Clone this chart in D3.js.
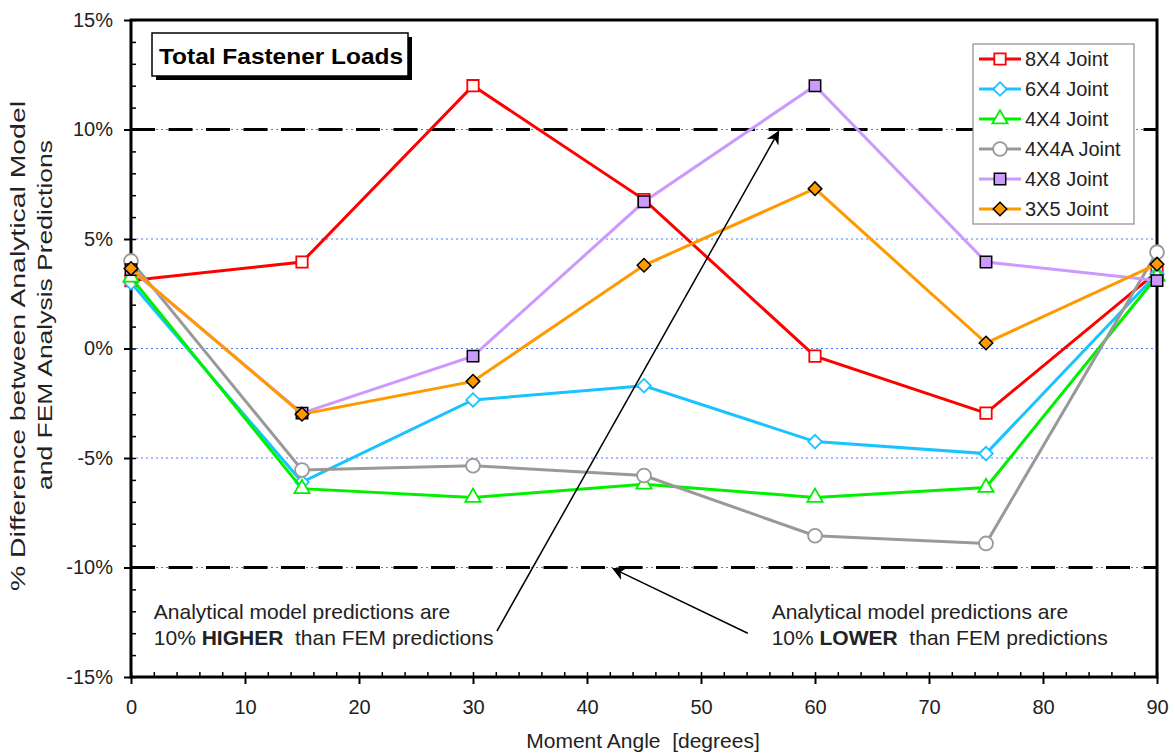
<!DOCTYPE html>
<html>
<head>
<meta charset="utf-8">
<script src="https://cdn.jsdelivr.net/npm/d3@7"></script>
<style>
  html, body { margin: 0; padding: 0; background: #fff; }
  svg { display: block; font-family: "Liberation Sans", Arial, sans-serif; }
</style>
</head>
<body>
<svg id="chart" width="1175" height="756"></svg>
<script>
// Moment angle (degrees) at which each joint was evaluated
const angles = [0, 15, 30, 45, 60, 75, 90];

// % difference between analytical model and FEM predictions, per joint
const joint8x4  = [3.1, 3.95, 12.0, 6.8, -0.35, -2.95, 3.5];
const joint6x4  = [3.0, -6.1, -2.35, -1.7, -4.25, -4.8, 3.4];
const joint4x4  = [3.25, -6.4, -6.8, -6.2, -6.8, -6.35, 3.3];
const joint4x4A = [4.0, -5.55, -5.35, -5.8, -8.55, -8.9, 4.4];
const joint4x8  = [3.6, -2.95, -0.35, 6.7, 12.0, 3.95, 3.1];
const joint3x5  = [3.65, -3.0, -1.5, 3.8, 7.3, 0.25, 3.85];

const seriesNames  = ["8X4 Joint", "6X4 Joint", "4X4 Joint", "4X4A Joint", "4X8 Joint", "3X5 Joint"];
const seriesValues = [joint8x4, joint6x4, joint4x4, joint4x4A, joint4x8, joint3x5];
const seriesColors = ["#ff0000", "#19c3ff", "#00f000", "#999999", "#cc99ff", "#ff9900"];
const seriesShapes = ["square", "diamond", "triangle", "circle", "square", "diamond"];
const seriesFills  = ["#ffffff", "#ffffff", "#ffffff", "#ffffff", "#cc99ff", "#ff9900"];
const seriesStroke = ["#ff0000", "#19c3ff", "#00f000", "#999999", "#000000", "#000000"];

const xTicks = [0, 10, 20, 30, 40, 50, 60, 70, 80, 90];
const yTicks = [-15, -10, -5, 0, 5, 10, 15];
const gridLevels = [-10, -5, 0, 5, 10];
const limitLevels = [10, -10];

const svg = d3.select("#chart");
const plotLeft = 131, plotRight = 1157, plotTop = 20, plotBottom = 677;

const x = d3.scaleLinear().domain([0, 90]).range([plotLeft, plotRight]);
const y = d3.scaleLinear().domain([-15, 15]).range([plotBottom, plotTop]);

const textColor = "#222";

// dotted blue gridlines
svg.append("g").selectAll("line").data(gridLevels).join("line")
  .attr("x1", plotLeft).attr("x2", plotRight)
  .attr("y1", d => y(d)).attr("y2", d => y(d))
  .attr("stroke", "#4a78ff").attr("stroke-width", 1)
  .attr("stroke-dasharray", "2,3");

// +/-10% limit lines
svg.append("g").selectAll("line").data(limitLevels).join("line")
  .attr("x1", plotLeft).attr("x2", plotRight)
  .attr("y1", d => y(d)).attr("y2", d => y(d))
  .attr("stroke", "#000").attr("stroke-width", 3)
  .attr("stroke-dasharray", "24,13.5");

// y axis: major ticks outward with labels, minor ticks inward
const yAxis = d3.axisLeft(y).tickValues(yTicks).tickSize(7).tickPadding(11)
  .tickFormat(d => d + "%");
const gy = svg.append("g").attr("transform", `translate(${plotLeft},0)`).call(yAxis);
gy.select(".domain").remove();
gy.selectAll(".tick line").attr("stroke", "#000").attr("stroke-width", 2);
gy.selectAll(".tick text").attr("font-size", 20).attr("fill", textColor)
  .attr("font-family", "Liberation Sans, Arial, sans-serif");

const yMinor = d3.axisRight(y).tickValues(d3.range(-15, 16, 1)).tickSize(5).tickFormat("");
const gym = svg.append("g").attr("transform", `translate(${plotLeft},0)`).call(yMinor);
gym.select(".domain").remove();
gym.selectAll(".tick line").attr("stroke", "#000").attr("stroke-width", 1.5);

// x axis: major ticks outward with labels, minor ticks inward
const xAxis = d3.axisBottom(x).tickValues(xTicks).tickSize(7).tickPadding(16);
const gx = svg.append("g").attr("transform", `translate(0,${plotBottom})`).call(xAxis);
gx.select(".domain").remove();
gx.selectAll(".tick line").attr("stroke", "#000").attr("stroke-width", 2);
gx.selectAll(".tick text").attr("font-size", 20).attr("fill", textColor)
  .attr("font-family", "Liberation Sans, Arial, sans-serif");

const xMinor = d3.axisTop(x).tickValues(d3.range(0, 91, 2)).tickSize(5).tickFormat("");
const gxm = svg.append("g").attr("transform", `translate(0,${plotBottom})`).call(xMinor);
gxm.select(".domain").remove();
gxm.selectAll(".tick line").attr("stroke", "#000").attr("stroke-width", 1.5);

// plot frame
svg.append("rect")
  .attr("x", plotLeft).attr("y", plotTop)
  .attr("width", plotRight - plotLeft).attr("height", plotBottom - plotTop)
  .attr("fill", "none").attr("stroke", "#000").attr("stroke-width", 3);

// axis titles
svg.append("text")
  .attr("x", 643).attr("y", 748)
  .attr("text-anchor", "middle").attr("font-size", 21).attr("fill", textColor)
  .attr("xml:space", "preserve")
  .text("Moment Angle  [degrees]");

const yTitle = svg.append("g").attr("fill", textColor).attr("font-size", 20)
  .attr("xml:space", "preserve");
yTitle.append("text")
  .attr("transform", "translate(25,346) rotate(-90)")
  .attr("text-anchor", "middle")
  .attr("textLength", 490).attr("lengthAdjust", "spacingAndGlyphs")
  .text("% Difference between Analytical Model");
yTitle.append("text")
  .attr("transform", "translate(52,315) rotate(-90)")
  .attr("text-anchor", "middle")
  .attr("textLength", 350).attr("lengthAdjust", "spacingAndGlyphs")
  .text("and FEM Analysis  Predictions");

// marker shapes; the diamond is a square turned 45 degrees
const squareDiamond = {
  draw(ctx, size) {
    const r = Math.sqrt(size / 2);
    ctx.moveTo(0, -r);
    ctx.lineTo(r, 0);
    ctx.lineTo(0, r);
    ctx.lineTo(-r, 0);
    ctx.closePath();
  }
};
const symbolFor = {
  square: d3.symbolSquare,
  diamond: squareDiamond,
  triangle: d3.symbolTriangle,
  circle: d3.symbolCircle
};
const symbolSize = { square: 130, diamond: 92, triangle: 100, circle: 150 };
function markerPath(shape) {
  return d3.symbol().type(symbolFor[shape]).size(symbolSize[shape])();
}

const line = d3.line().x((d, i) => x(angles[i])).y(d => y(d));

// series: line then markers, later series drawn on top
seriesValues.forEach((vals, s) => {
  const g = svg.append("g");
  g.append("path").datum(vals)
    .attr("d", line)
    .attr("fill", "none")
    .attr("stroke", seriesColors[s])
    .attr("stroke-width", 3);
  g.selectAll("path.m").data(vals).join("path")
    .attr("class", "m")
    .attr("transform", (d, i) => `translate(${x(angles[i])},${y(d)})`)
    .attr("d", markerPath(seriesShapes[s]))
    .attr("fill", seriesFills[s])
    .attr("stroke", seriesStroke[s])
    .attr("stroke-width", seriesFills[s] === "#ffffff" ? 1.8 : 1.5);
});

// title box with drop shadow
const tb = { x0: 152, y0: 33, x1: 408, y1: 76 };
svg.append("rect")
  .attr("x", tb.x0 + 4).attr("y", tb.y0 + 4)
  .attr("width", tb.x1 - tb.x0).attr("height", tb.y1 - tb.y0)
  .attr("fill", "#000");
svg.append("rect")
  .attr("x", tb.x0).attr("y", tb.y0)
  .attr("width", tb.x1 - tb.x0).attr("height", tb.y1 - tb.y0)
  .attr("fill", "#fff").attr("stroke", "#000").attr("stroke-width", 1.5);
svg.append("text")
  .attr("x", 159).attr("y", 64)
  .attr("font-size", 22).attr("font-weight", "bold").attr("fill", "#000")
  .attr("textLength", 244).attr("lengthAdjust", "spacingAndGlyphs")
  .text("Total Fastener Loads");

// legend
const lg = svg.append("g");
lg.append("rect")
  .attr("x", 973).attr("y", 44).attr("width", 161).attr("height", 180)
  .attr("fill", "#fff").attr("stroke", "#8c8c8c").attr("stroke-width", 1.2);
seriesNames.forEach((name, s) => {
  const cy = 59 + s * 30;
  lg.append("line")
    .attr("x1", 979).attr("x2", 1021).attr("y1", cy).attr("y2", cy)
    .attr("stroke", seriesColors[s]).attr("stroke-width", 3);
  lg.append("path")
    .attr("transform", `translate(1000,${cy})`)
    .attr("d", markerPath(seriesShapes[s]))
    .attr("fill", seriesFills[s])
    .attr("stroke", seriesStroke[s])
    .attr("stroke-width", seriesFills[s] === "#ffffff" ? 1.8 : 1.5);
  lg.append("text")
    .attr("x", 1025).attr("y", cy + 7)
    .attr("font-size", 20).attr("fill", textColor)
    .text(name);
});

// annotation arrows, anchored in data coordinates
svg.append("defs").append("marker")
  .attr("id", "head").attr("viewBox", "0 0 10 10")
  .attr("refX", 9).attr("refY", 5)
  .attr("markerWidth", 9).attr("markerHeight", 9)
  .attr("orient", "auto-start-reverse")
  .append("path").attr("d", "M0,0 L10,5 L0,10 L3,5 Z").attr("fill", "#000");

const arrows = [
  { from: [32.1, -12.9], to: [56.8, 9.9] },
  { from: [54.1, -13.0], to: [42.3, -10.05] }
];
svg.append("g").selectAll("line").data(arrows).join("line")
  .attr("x1", d => x(d.from[0])).attr("y1", d => y(d.from[1]))
  .attr("x2", d => x(d.to[0])).attr("y2", d => y(d.to[1]))
  .attr("stroke", "#000").attr("stroke-width", 1.5)
  .attr("marker-end", "url(#head)");

// annotation notes
const notes = [
  { at: [2.0, -12.35], pre: "10% ", bold: "HIGHER", post: "  than FEM predictions" },
  { at: [56.2, -12.35], pre: "10% ", bold: "LOWER", post: "  than FEM predictions" }
];
notes.forEach(n => {
  const t = svg.append("text")
    .attr("x", x(n.at[0])).attr("y", y(n.at[1]))
    .attr("font-size", 21).attr("fill", textColor)
    .attr("xml:space", "preserve");
  t.append("tspan").attr("x", x(n.at[0])).attr("dy", 0)
    .text("Analytical model predictions are");
  const l2 = t.append("tspan").attr("x", x(n.at[0])).attr("dy", 26);
  l2.append("tspan").text(n.pre);
  l2.append("tspan").attr("font-weight", "bold").text(n.bold);
  l2.append("tspan").text(n.post);
});
</script>
</body>
</html>
